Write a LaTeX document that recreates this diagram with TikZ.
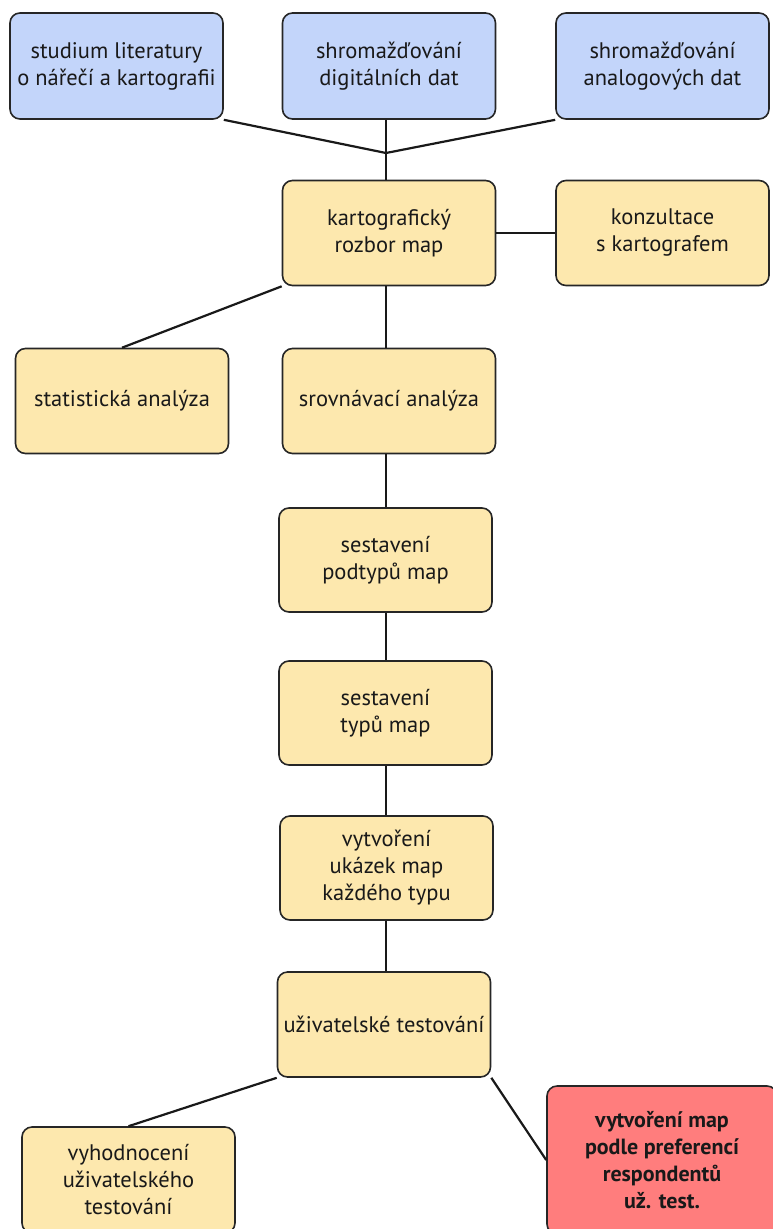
\documentclass[tikz,border=0pt]{standalone}
\usepackage{fontspec}
\setmainfont{PT Sans}
\begin{document}
\begin{tikzpicture}[x=1pt,y=-1pt,
  box/.style={draw=black!85, line width=1.6pt, rounded corners=10pt, align=center,
    inner sep=2pt, text=black!90, font=\fontsize{22.5}{27}\selectfont},
  blue/.style={box, fill=bluefill, minimum width=213pt, minimum height=106pt},
  yel/.style={box, fill=yelfill, minimum width=213pt, minimum height=105pt},
  redb/.style={box, fill=redfill, font=\fontsize{22}{27}\selectfont\bfseries},
  conn/.style={line width=2.2pt, draw=black!90}]
\definecolor{bluefill}{HTML}{C3D5FA}
\definecolor{yelfill}{HTML}{FDE8AE}
\definecolor{redfill}{HTML}{FF7D7D}
\useasboundingbox (0,0) rectangle (773,1229);
\clip (0,0) rectangle (773,1229);
\node[blue] (A) at (116.5,66) {studium literatury\\o nářečí a kartografii};
\node[blue] (B) at (389,66) {shromažďování\\digitálních dat};
\node[blue] (C) at (662.5,66) {shromažďování\\analogových dat};
\coordinate (j) at (386,153);
\node[yel] (D) at (389,233) {kartografický\\rozbor map};
\node[yel] (E) at (662.5,233) {konzultace\\s kartografem};
\node[yel] (F) at (122,401) {statistická analýza};
\node[yel] (G) at (389,401) {srovnávací analýza};
\node[yel, minimum height=104pt] (H) at (385.5,560) {sestavení\\podtypů map};
\node[yel, minimum height=104pt] (I) at (385.5,713) {sestavení\\typů map};
\node[yel, minimum height=104pt] (J) at (386.5,868) {vytvoření\\ukázek map\\každého typu};
\node[yel] (K) at (384,1024.5) {uživatelské testování};
\node[redb, minimum width=230pt, minimum height=148pt] (L) at (662,1160) {vytvoření map\\podle preferencí\\respondentů\\už. test.};
\node[yel, minimum height=106pt] (M) at (128.5,1180) {vyhodnocení\\uživatelského\\testování};
\draw[conn] (A.south east) -- (j);
\draw[conn] (C.south west) -- (j);
\draw[conn] (B.south -| j) -- (j);
\draw[conn] (j) -- (D.north -| j);
\draw[conn] (D.east) -- (E.west);
\draw[conn] (D.south west) -- (F.north);
\draw[conn] (D.south -| j) -- (G.north -| j);
\draw[conn] (G.south -| j) -- (H.north -| j);
\draw[conn] (H.south -| j) -- (I.north -| j);
\draw[conn] (I.south -| j) -- (J.north -| j);
\draw[conn] (J.south -| j) -- (K.north -| j);
\draw[conn] (K.south west) -- (M.north);
\draw[conn] (K.south east) -- (L.west);
\end{tikzpicture}
\end{document}
